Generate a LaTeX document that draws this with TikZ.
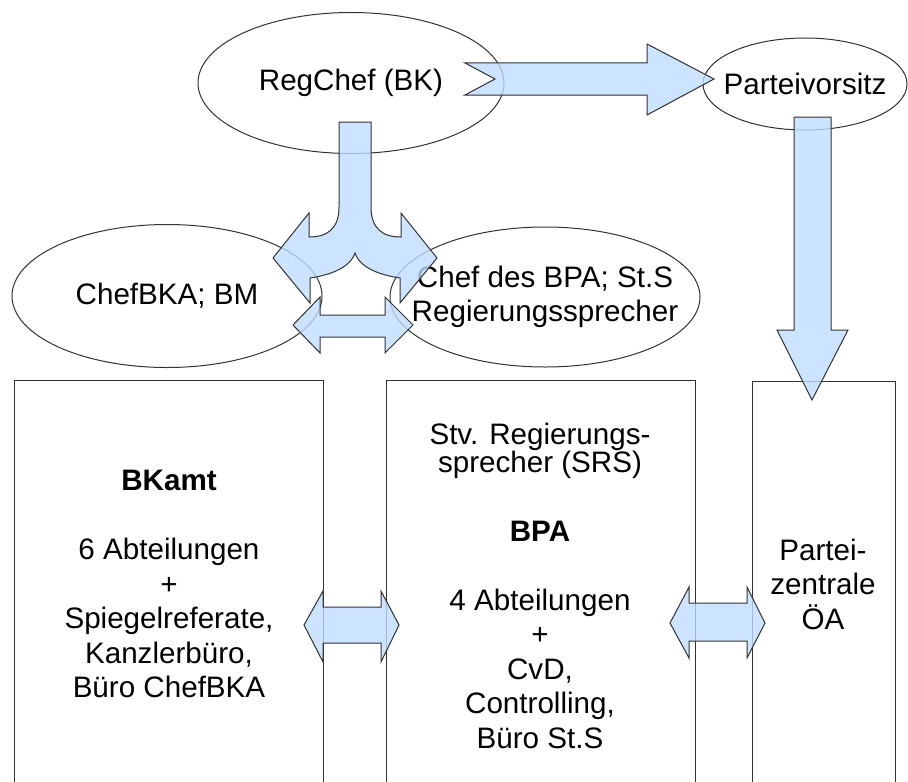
\documentclass[tikz,border=0pt]{standalone}
\usepackage{fontspec}
\setmainfont{Liberation Sans}
\usetikzlibrary{shapes.geometric}
\definecolor{arrowblue}{RGB}{191,221,255}
\definecolor{linegray}{RGB}{50,50,50}
\begin{document}
\begin{tikzpicture}[x=0.5pt, y=-0.5pt, line width=0.5pt,
	every node/.style={font=\fontsize{14.8pt}{17.25pt}\selectfont, inner sep=0pt, align=center},
	oval/.style={ellipse, draw=linegray},
	dept/.style={rectangle, draw=linegray, anchor=north west, minimum height=210pt},
	blockarrow/.style={draw=linegray, fill=arrowblue, fill opacity=0.8, line join=miter}]
	\useasboundingbox (0,0) rectangle (908,781);
	\clip (0,0) rectangle (908,781);

	% Personen (Ellipsen)
	\node[oval, minimum width=153pt, minimum height=70.5pt] (regchef) at (351,83) {RegChef (BK)};
	\node[oval, inner xsep=-7pt, minimum width=102pt, minimum height=46pt] (partei) at (805,84) {Parteivorsitz};
	\node[oval, minimum width=155pt, minimum height=71.5pt] (chefbka) at (167,296) {ChefBKA; BM};
	\node[oval, inner xsep=-13pt, inner ysep=-4pt, minimum width=155pt, minimum height=70pt] (chefbpa) at (545,297) {Chef des BPA; St.S\\Regierungssprecher};

	% Behoerden (Kaesten, unten abgeschnitten)
	\node[dept, minimum width=154.5pt] (bkamt) at (14,380) {};
	\node[dept, minimum width=154.5pt] (bpa) at (386,380) {};
	\node[dept, minimum width=71.5pt] (zentrale) at (752,381) {};

	\node (bkamttxt) at (169,584) {\textbf{BKamt}\\[17.25pt]6 Abteilungen\\+\\Spiegelreferate,\\Kanzlerbüro,\\Büro ChefBKA};
	\node (bpatxt) at (540,586) {Stv. Regierungs-\\[-3.5pt]sprecher (SRS)\\[17.25pt]\textbf{BPA}\\[17.25pt]4 Abteilungen\\+\\CvD,\\Controlling,\\Büro St.S};
	\node (zentraletxt) at (823,584) {Partei-\\zentrale\\ÖA};

	% Blockpfeile
	\draw[blockarrow] (465,63) -- (495,79) -- (465,95) -- (647,95) -- (647,115) -- (714,79)
		-- (647,44) -- (647,63) -- cycle;
	\draw[blockarrow] (794,117) -- (794,330) -- (777,330) -- (812,400) -- (848,330) -- (831,330)
		-- (831,117) -- cycle;
	\draw[blockarrow] (339,122) -- (339,207) .. controls (339,228) and (328,237) .. (309,237)
		-- (309,213) -- (273,258) -- (310,303) -- (310,278)
		.. controls (330,275) and (350,268) .. (355,253)
		.. controls (360,268) and (380,275) .. (400,278)
		-- (400,303) -- (437,258) -- (401,213) -- (401,237)
		.. controls (382,237) and (371,228) .. (371,207) -- (371,122) -- cycle;
	\draw[blockarrow] (293,325) -- (320,297) -- (320,315) -- (385,315) -- (385,297) -- (413,325)
		-- (385,353) -- (385,337) -- (320,337) -- (320,353) -- cycle;
	\draw[blockarrow] (304,625) -- (323,591) -- (323,607) -- (381,607) -- (381,591) -- (399,625)
		-- (381,662) -- (381,643) -- (323,643) -- (323,662) -- cycle;
	\draw[blockarrow] (670,623) -- (689,587) -- (689,603) -- (747,603) -- (747,587) -- (765,623)
		-- (747,658) -- (747,641) -- (689,641) -- (689,658) -- cycle;
\end{tikzpicture}
\end{document}
